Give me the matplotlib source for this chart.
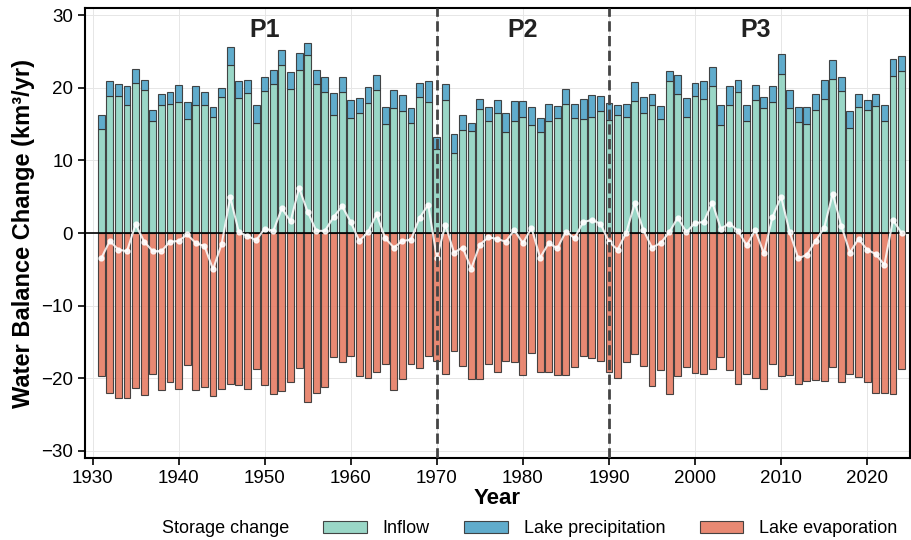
import matplotlib
matplotlib.use("Agg")
import matplotlib.pyplot as plt
import numpy as np

plt.rcParams['font.family'] = ['Liberation Sans', 'DejaVu Sans']

# Annual water balance components (km³/yr), 1931-2024
years = np.arange(1931, 2025)

inflow = [
    14.3, 18.9, 18.9, 17.7, 20.7, 19.7, 15.4, 17.7, 17.8, 18.1,
    15.7, 17.6, 17.7, 16.0, 18.8, 23.1, 18.6, 19.3, 15.1, 19.6,
    20.6, 23.1, 19.9, 22.5, 24.5, 20.6, 19.4, 16.3, 19.4, 15.9,
    16.6, 17.9, 19.7, 15.0, 17.2, 16.8, 15.2, 18.8, 18.1, 11.6,
    18.3, 11.0, 14.2, 14.0, 17.1, 15.5, 16.5, 13.9, 15.4, 16.0,
    14.9, 13.9, 15.5, 15.8, 17.8, 15.9, 15.7, 16.0, 16.8, 15.6,
    16.3, 16.0, 18.2, 16.6, 17.7, 15.7, 20.9, 19.1, 16.0, 18.9,
    18.5, 20.2, 14.9, 17.7, 19.4, 15.5, 18.3, 17.2, 18.0, 21.9,
    17.2, 15.3, 15.0, 17.0, 18.5, 21.2, 19.6, 14.5, 17.3, 17.0,
    17.5, 15.4, 21.6, 22.3,
]

precip = [
    1.9, 2.0, 1.6, 2.6, 1.9, 1.4, 1.6, 1.4, 1.6, 2.3,
    2.3, 2.7, 1.7, 1.4, 1.2, 2.6, 2.4, 1.8, 2.6, 1.9,
    1.9, 2.1, 2.3, 2.3, 1.7, 1.8, 2.1, 3.0, 2.1, 2.5,
    2.0, 2.2, 2.1, 2.4, 2.5, 2.2, 2.0, 1.9, 2.8, 1.7,
    2.2, 2.6, 2.1, 1.2, 1.4, 1.9, 1.9, 2.6, 2.8, 2.2,
    2.4, 1.9, 2.3, 1.7, 2.0, 1.9, 2.8, 3.0, 2.1, 2.3,
    1.4, 1.8, 2.6, 2.1, 1.4, 1.8, 1.4, 2.7, 2.6, 1.8,
    2.4, 2.7, 2.8, 2.5, 1.7, 2.2, 2.1, 1.5, 2.3, 2.8,
    2.5, 2.0, 2.4, 2.2, 2.6, 2.7, 1.9, 2.3, 1.8, 1.3,
    1.6, 2.3, 2.4, 2.1,
]

evaporation = [
    -19.7, -22.0, -22.8, -22.8, -21.4, -22.3, -19.5, -21.6, -20.6, -21.5,
    -18.2, -21.7, -21.2, -22.4, -21.5, -20.8, -20.9, -21.5, -18.7, -20.9,
    -22.2, -21.8, -20.6, -18.6, -23.3, -22.1, -21.2, -17.1, -17.8, -16.9,
    -19.7, -20.0, -19.2, -18.1, -21.7, -20.1, -18.1, -18.6, -17.0, -17.6,
    -19.4, -16.3, -18.3, -20.1, -20.1, -18.0, -19.2, -17.7, -17.8, -19.6,
    -16.6, -19.2, -19.2, -19.6, -19.6, -18.5, -17.0, -17.2, -17.6, -19.1,
    -20.0, -17.8, -16.7, -18.3, -21.1, -18.9, -22.2, -19.7, -18.5, -19.3,
    -19.4, -18.7, -17.1, -18.9, -20.8, -19.4, -20.0, -21.5, -18.1, -19.7,
    -19.6, -20.8, -20.4, -20.3, -20.4, -18.5, -20.5, -19.5, -19.9, -20.6,
    -22.0, -22.1, -22.2, -18.8,
]

storage = [
    -3.5, -1.1, -2.3, -2.5, 1.2, -1.2, -2.5, -2.5, -1.2, -1.1,
    -0.2, -1.4, -1.8, -5.0, -1.5, 4.9, 0.1, -0.4, -1.0, 0.6,
    0.3, 3.4, 1.6, 6.2, 2.9, 0.3, 0.3, 2.2, 3.7, 1.5,
    -1.1, 0.1, 2.6, -0.7, -2.0, -1.1, -0.9, 2.1, 3.9, -3.4,
    1.1, -2.7, -2.0, -4.9, -1.6, -0.6, -0.8, -1.2, 0.4, -1.4,
    0.7, -3.4, -1.4, -2.1, 0.2, -0.7, 1.5, 1.8, 1.3, -1.2,
    -2.3, 0.0, 4.1, 0.4, -2.0, -1.4, 0.1, 2.1, 0.1, 1.4,
    1.5, 4.2, 0.6, 1.3, 0.3, -1.7, 0.4, -2.8, 2.2, 5.0,
    0.1, -3.5, -3.0, -1.1, 0.7, 5.4, 1.0, -2.7, -0.8, -2.3,
    -2.9, -4.4, 1.8, 0.0,
]

period_breaks = [1970, 1990]
period_labels = ['P1', 'P2', 'P3']
period_label_x = [1950, 1980, 2007]

c_inflow = '#8fd3c1'
c_precip = '#4fa3c7'
c_evap = '#e67c64'

fig, ax = plt.subplots(figsize=(9.12, 5.4), dpi=100)
fig.subplots_adjust(left=0.093, right=0.998, top=0.985, bottom=0.152)

ax.grid(True, color='#e6e6e6', linewidth=0.7, zorder=0)
ax.set_axisbelow(True)

w = 0.8
ax.plot(years, storage, color='white', lw=1.5, marker='o', ms=3.5,
        alpha=0.85, label='Storage change', zorder=4)
ax.bar(years, inflow, width=w, color=c_inflow, edgecolor='#333333',
       linewidth=0.8, alpha=0.9, label='Inflow', zorder=2)
ax.bar(years, precip, width=w, bottom=inflow, color=c_precip, edgecolor='#333333',
       linewidth=0.8, alpha=0.9, label='Lake precipitation', zorder=2)
ax.bar(years, evaporation, width=w, color=c_evap, edgecolor='#333333',
       linewidth=0.8, alpha=0.9, label='Lake evaporation', zorder=2)

ax.axhline(0, color='black', lw=1.2, zorder=3)
for b in period_breaks:
    ax.axvline(b, color='#444444', ls='--', lw=2, zorder=5)

for lab, xp in zip(period_labels, period_label_x):
    ax.text(xp, 28.0, lab, ha='center', va='center', fontsize=18,
            fontweight='bold', color='#222222')

ax.set_xlim(1929.1, 2025)
ax.set_ylim(-31, 31)
ax.set_xticks(np.arange(1930, 2021, 10))
ax.set_yticks(np.arange(-30, 31, 10))
ax.tick_params(axis='both', labelsize=13.5, direction='out', length=5, width=1.2)
ax.set_yticklabels(['\u221230', '\u221220', '\u221210', '0', '10', '20', '30'])
for s in ax.spines.values():
    s.set_linewidth(1.5)

ax.set_xlabel('Year', fontsize=16, fontweight='bold', labelpad=1)
ax.set_ylabel('Water Balance Change (km\u00b3/yr)', fontsize=17, fontweight='bold',
              labelpad=4)

handles, labels = ax.get_legend_handles_labels()
fig.legend(handles, labels,
           loc='lower center', bbox_to_anchor=(0.548, -0.025), ncol=4,
           frameon=False, fontsize=13, columnspacing=1.9, handlelength=2.4,
           handletextpad=0.9)

fig.savefig('out.png', dpi=100)
